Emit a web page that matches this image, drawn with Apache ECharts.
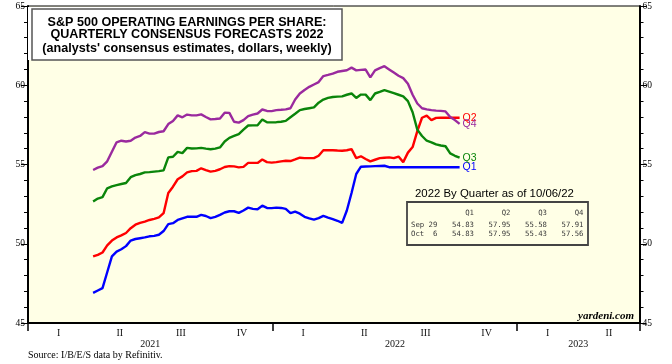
<!DOCTYPE html>
<html>
<head>
<meta charset="utf-8">
<script src="https://cdn.jsdelivr.net/npm/echarts@6/dist/echarts.min.js"></script>
<style>
html,body{margin:0;padding:0;background:#fff;}
#chart{width:672px;height:364px;}
</style>
</head>
<body>
<div id="chart"></div>
<script>
// ---- data ----
const seriesNames = ['Q1', 'Q2', 'Q3', 'Q4'];
const seriesColors = ['#0000FF', '#FF0000', '#0A850A', '#9A2A9E'];
const startDate = [2021, 3, 8]; // first weekly observation (Thu Apr 8, 2021)
const q1 = [46.9,47.05,47.2,48.2,49.2,49.5,49.65,49.85,50.2,50.3,50.35,50.4,50.47,50.5,50.57,50.8,51.24,51.3,51.5,51.6,
  51.7,51.7,51.7,51.82,51.75,51.62,51.7,51.82,51.97,52.05,52.05,51.95,52.1,52.28,52.2,52.18,52.4,52.26,52.25,52.28,
  52.26,52.2,51.93,52.03,51.9,51.7,51.6,51.52,51.62,51.76,51.65,51.55,51.45,51.32,52.1,53.2,54.4,54.86,54.87,54.88,
  54.9,54.91,54.92,54.83,54.83,54.83,54.83,54.83,54.83,54.83,54.83,54.83,54.83,54.83,54.83,54.83,54.83,54.83,54.83];
const q2 = [49.2,49.3,49.45,49.9,50.2,50.4,50.53,50.68,50.98,51.2,51.32,51.4,51.5,51.57,51.66,51.93,53.2,53.6,54.07,54.25,
  54.5,54.58,54.6,54.76,54.65,54.55,54.6,54.7,54.84,54.9,54.88,54.82,54.85,55.1,55.1,55.1,55.32,55.15,55.12,55.15,
  55.2,55.24,55.22,55.32,55.43,55.4,55.4,55.4,55.55,55.9,55.9,55.9,55.88,55.87,55.9,55.97,55.4,55.52,55.35,55.2,
  55.3,55.4,55.43,55.45,55.4,55.5,55.15,55.75,56.1,57.1,57.95,58.08,57.8,57.94,57.95,57.95,57.95,57.95,57.95];
const q3 = [52.66,52.85,52.94,53.5,53.62,53.7,53.77,53.83,54.2,54.33,54.4,54.5,54.52,54.55,54.58,54.63,55.45,55.49,55.8,55.72,
  56.05,56.01,56.02,56.05,56.0,55.96,56.0,56.08,56.45,56.68,56.8,56.92,57.2,57.46,57.47,57.48,57.84,57.66,57.66,57.67,
  57.7,57.75,57.98,58.2,58.43,58.5,58.55,58.6,58.9,59.1,59.2,59.26,59.28,59.3,59.4,59.48,59.2,59.41,59.41,59.06,
  59.48,59.58,59.69,59.6,59.5,59.4,59.3,59.0,58.3,57.2,56.8,56.5,56.4,56.27,56.2,56.15,55.7,55.55,55.43];
const q4 = [54.65,54.8,54.9,55.2,55.8,56.4,56.5,56.45,56.5,56.7,56.8,57.04,56.95,56.95,57.05,57.1,57.55,57.75,58.1,57.98,
  58.15,58.1,58.1,58.16,58.0,57.85,57.87,57.9,58.27,58.26,57.7,57.64,57.8,58.05,58.15,58.22,58.47,58.38,58.37,58.43,
  58.45,58.48,58.55,59.1,59.48,59.7,59.9,60.05,60.2,60.58,60.65,60.73,60.85,60.9,60.95,61.11,60.94,60.97,60.99,60.5,
  60.94,61.08,61.2,61.0,60.8,60.6,60.45,60.1,59.4,58.85,58.55,58.48,58.43,58.4,58.38,58.35,58.0,57.8,57.56];
const quarterLabels = ['I','II','III','IV','I','II','III','IV','I','II'];
const yearLabels = ['', '', '2021', '', '', '', '2022', '', '', '2023', ''];
const yTicks = {min: 45, max: 65, interval: 5};
const titleLines = ['S&P 500 OPERATING EARNINGS PER SHARE:', 'QUARTERLY CONSENSUS FORECASTS 2022', "(analysts' consensus estimates, dollars, weekly)"];
const tableTitle = '2022 By Quarter as of 10/06/22';
const tableHeader = ['Q1', 'Q2', 'Q3', 'Q4'];
const tableRowLabels = ['Sep 29', 'Oct  6'];
const tableValues = [['54.83','57.95','55.58','57.91'], ['54.83','57.95','55.43','57.56']];
const sourceText = 'Source: I/B/E/S data by Refinitiv.';
const brandText = 'yardeni.com';

// ---- build ----
const allSeries = [q1, q2, q3, q4];
function toPairs(vals) {
  return vals.map((v, i) => [new Date(startDate[0], startDate[1], startDate[2] + 7 * i).getTime(), v]);
}
const SANS = 'Arial, "Liberation Sans", sans-serif';
const SERIF = '"Times New Roman", "Liberation Serif", serif';
const MONO = '"DejaVu Sans Mono", "Liberation Mono", monospace';

const yAxisCommon = {
  type: 'value', min: yTicks.min, max: yTicks.max, interval: yTicks.interval,
  axisLine: {show: true, lineStyle: {color: '#000', width: 2}},
  axisTick: {show: true, length: 7, lineStyle: {color: '#000', width: 1}},
  minorTick: {show: true, splitNumber: 5, length: 4, lineStyle: {color: '#000', width: 1}},
  splitLine: {show: false},
  axisLabel: {fontFamily: SERIF, fontSize: 9.5, color: '#000', margin: 3}
};

const graphic = [];
// title box
graphic.push({type: 'rect', z: 100, shape: {x: 28, y: 7, width: 314, height: 53}, style: {fill: '#fff'}});
graphic.push({type: 'rect', z: 101, shape: {x: 32, y: 9, width: 310, height: 51}, style: {fill: '#fff', stroke: '#555', lineWidth: 1.5}});
const titleYs = [22.5, 34.5, 48.5];
titleLines.forEach((t, i) => graphic.push({type: 'text', z: 102, x: 187, y: titleYs[i],
  style: {text: t, font: 'bold 12.6px ' + SANS, fill: '#000', textAlign: 'center', textVerticalAlign: 'middle'}}));
// table
graphic.push({type: 'text', z: 102, x: 415, y: 194,
  style: {text: tableTitle, font: '11.4px ' + SANS, fill: '#000', textAlign: 'left', textVerticalAlign: 'middle'}});
graphic.push({type: 'rect', z: 101, shape: {x: 407, y: 202, width: 181, height: 43}, style: {fill: 'transparent', stroke: '#444', lineWidth: 1.8}});
const colRight = [474, 510.5, 547, 583.5];
const rowYs = [225, 234.5];
tableHeader.forEach((h, j) => graphic.push({type: 'text', z: 102, x: colRight[j], y: 213,
  style: {text: h, font: '7.3px ' + MONO, fill: '#3a3a3a', textAlign: 'right', textVerticalAlign: 'middle'}}));
tableRowLabels.forEach((r, i) => {
  graphic.push({type: 'text', z: 102, x: 411, y: rowYs[i],
    style: {text: r, font: '7.3px ' + MONO, fill: '#3a3a3a', textAlign: 'left', textVerticalAlign: 'middle'}});
  tableValues[i].forEach((v, j) => graphic.push({type: 'text', z: 102, x: colRight[j], y: rowYs[i],
    style: {text: v, font: '7.3px ' + MONO, fill: '#3a3a3a', textAlign: 'right', textVerticalAlign: 'middle'}}));
});
// brand + source
graphic.push({type: 'text', z: 102, x: 634, y: 316,
  style: {text: brandText, font: 'italic bold 11px ' + SERIF, fill: '#000', textAlign: 'right', textVerticalAlign: 'middle'}});
graphic.push({type: 'text', z: 102, x: 28, y: 355,
  style: {text: sourceText, font: '10px ' + SERIF, fill: '#000', textAlign: 'left', textVerticalAlign: 'middle'}});

const option = {
  animation: false,
  backgroundColor: '#fff',
  grid: {left: 28, right: 32.5, top: 6, bottom: 41, show: true, backgroundColor: '#FFFFE6', borderColor: '#000', borderWidth: 1},
  xAxis: [
    {type: 'time', min: new Date(2021, 0, 1).getTime(), max: new Date(2023, 6, 1).getTime(), show: false},
    {type: 'category', data: quarterLabels, boundaryGap: true, position: 'bottom',
     axisLine: {show: true, onZero: false, lineStyle: {color: '#000', width: 2}},
     axisTick: {show: true, length: 8, interval: (idx) => idx % 4 === 0, lineStyle: {color: '#000', width: 1.5}},
     axisLabel: {interval: 0, fontFamily: SERIF, fontSize: 10, color: '#111', margin: 5},
     splitLine: {show: false}},
    {type: 'category', data: yearLabels, boundaryGap: false, position: 'bottom',
     axisLine: {show: false}, axisTick: {show: false},
     axisLabel: {interval: 0, fontFamily: SERIF, fontSize: 10, color: '#111', margin: 16},
     splitLine: {show: false}}
  ],
  yAxis: [
    Object.assign({}, yAxisCommon, {position: 'left'}),
    Object.assign({}, yAxisCommon, {position: 'right'})
  ],
  series: allSeries.map((vals, k) => ({
    name: seriesNames[k], type: 'line', xAxisIndex: 0, yAxisIndex: 0,
    data: toPairs(vals), showSymbol: false, symbol: 'none',
    lineStyle: {color: seriesColors[k], width: 2.4},
    itemStyle: {color: seriesColors[k]},
    endLabel: {show: true, formatter: '{a}', color: seriesColors[k], fontFamily: SANS, fontSize: 10.5, distance: 3},
    z: 2 + k
  })),
  graphic: graphic
};
const chart = echarts.init(document.getElementById('chart'), null, {renderer: 'canvas'});
chart.setOption(option);
</script>
</body>
</html>
